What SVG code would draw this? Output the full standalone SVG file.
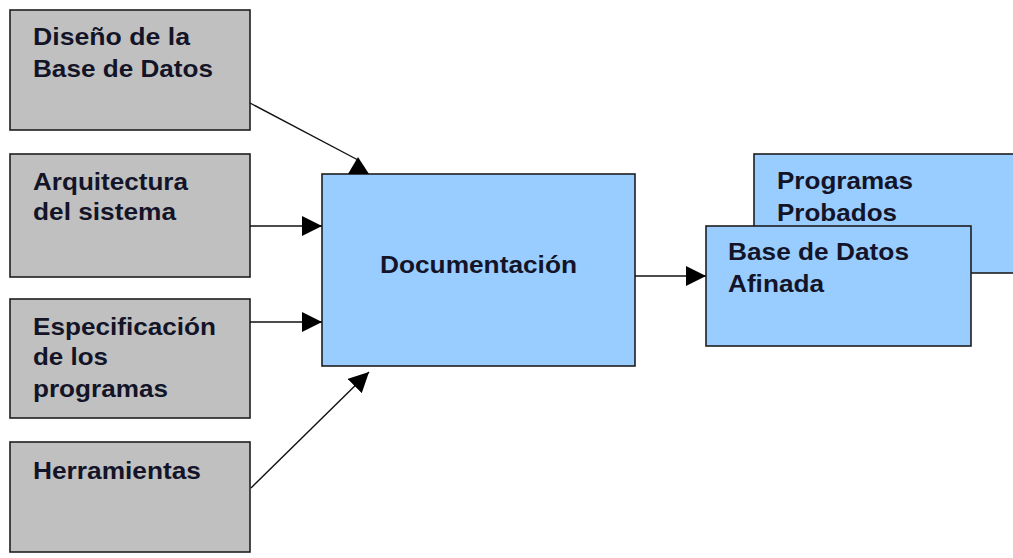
<svg xmlns="http://www.w3.org/2000/svg" width="1013" height="558" viewBox="0 0 1013 558">
<style>
.gray{fill:#c0c0c0;stroke:#1e1e1e;stroke-width:1.6}
.blue{fill:#99ccff;stroke:#1e1e1e;stroke-width:1.6}
.t{font-family:"Liberation Sans",Arial,sans-serif;font-weight:bold;font-size:24px;fill:#141428}
.c{stroke:#111;stroke-width:1.4;fill:none}
.h{fill:#000}
</style>
<defs>
<marker id="arr" markerUnits="userSpaceOnUse" markerWidth="20" markerHeight="20" refX="20" refY="10" orient="auto">
<path d="M0,0 L20,10 L0,20 z" fill="#000"/>
</marker>
</defs>
<rect width="1013" height="558" fill="#ffffff"/>
<g id="n-diseno">
<rect class="gray" x="10" y="10" width="240" height="120"/>
<text class="t" x="33" y="45" textLength="157" lengthAdjust="spacingAndGlyphs">Diseño de la</text>
<text class="t" x="33" y="77" textLength="180" lengthAdjust="spacingAndGlyphs">Base de Datos</text>
</g>
<g id="n-arquitectura">
<rect class="gray" x="10" y="154" width="240" height="123"/>
<text class="t" x="33" y="190" textLength="155" lengthAdjust="spacingAndGlyphs">Arquitectura</text>
<text class="t" x="33" y="220" textLength="143" lengthAdjust="spacingAndGlyphs">del sistema</text>
</g>
<g id="n-especificacion">
<rect class="gray" x="10" y="299" width="240" height="119"/>
<text class="t" x="33" y="335" textLength="183" lengthAdjust="spacingAndGlyphs">Especificación</text>
<text class="t" x="33" y="365" textLength="75" lengthAdjust="spacingAndGlyphs">de los</text>
<text class="t" x="33" y="397" textLength="135" lengthAdjust="spacingAndGlyphs">programas</text>
</g>
<g id="n-herramientas">
<rect class="gray" x="10" y="442" width="240" height="110"/>
<text class="t" x="33" y="479" textLength="168" lengthAdjust="spacingAndGlyphs">Herramientas</text>
</g>
<g id="n-documentacion">
<rect class="blue" x="322" y="174" width="313" height="192"/>
<text class="t" x="380" y="273" textLength="197" lengthAdjust="spacingAndGlyphs">Documentación</text>
</g>
<g id="n-programas">
<rect class="blue" x="754" y="154" width="270" height="119"/>
<text class="t" x="777" y="189" textLength="136" lengthAdjust="spacingAndGlyphs">Programas</text>
<text class="t" x="777" y="221" textLength="120" lengthAdjust="spacingAndGlyphs">Probados</text>
</g>
<g id="n-basedatos">
<rect class="blue" x="706" y="226" width="265" height="120"/>
<text class="t" x="728" y="260" textLength="181" lengthAdjust="spacingAndGlyphs">Base de Datos</text>
<text class="t" x="728" y="292" textLength="96" lengthAdjust="spacingAndGlyphs">Afinada</text>
</g>
<g id="connectors">
<line class="c" x1="250" y1="103" x2="358" y2="160"/>
<polygon class="h" points="348,174 358,157 369,174"/>
<line class="c" x1="250" y1="226" x2="322" y2="226" marker-end="url(#arr)"/>
<line class="c" x1="250" y1="322" x2="322" y2="322" marker-end="url(#arr)"/>
<line class="c" x1="251" y1="488" x2="369" y2="372" marker-end="url(#arr)"/>
<line class="c" x1="635" y1="276" x2="706" y2="276" marker-end="url(#arr)"/>
</g>
</svg>
